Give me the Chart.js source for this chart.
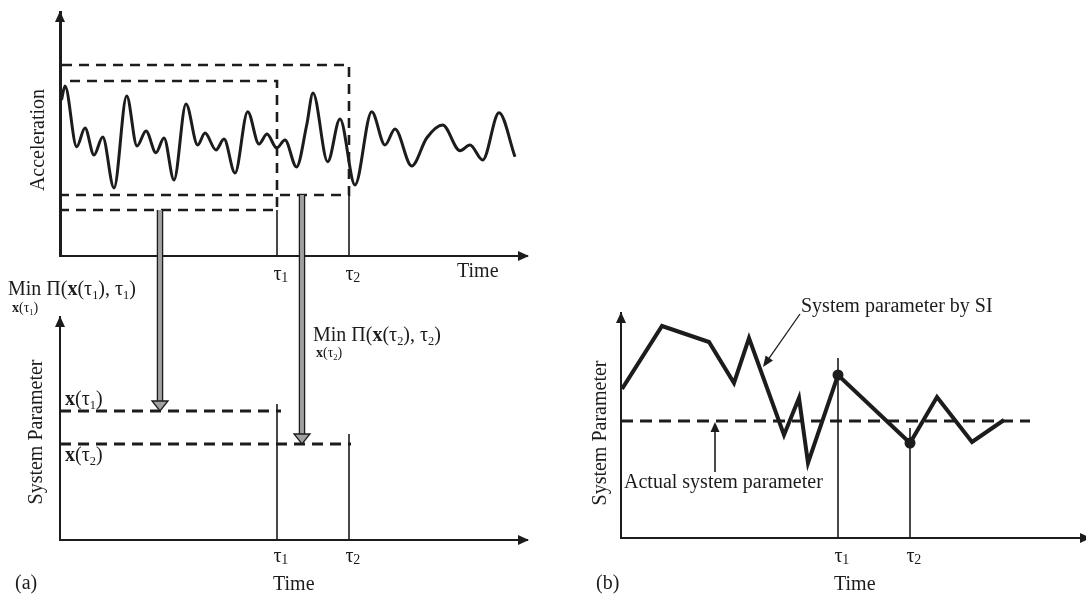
<!DOCTYPE html>
<html><head><meta charset="utf-8">
<script src="https://cdn.jsdelivr.net/npm/chart.js@4.4.1/dist/chart.umd.min.js"></script>
<style>
html,body{margin:0;padding:0;background:#fff;}
#wrap{position:relative;width:1086px;height:597px;overflow:hidden;background:#fff;}
canvas{position:absolute;left:0;top:0;}
</style></head><body>
<div id="wrap">
<canvas id="cA" width="1086" height="597"></canvas>
<canvas id="cB" width="1086" height="597"></canvas>
<canvas id="cC" width="1086" height="597"></canvas>
</div>
<script>
// ---------------- data ----------------
const tau = [21.7, 28.9];              // τ1, τ2 (time units)
const tauSubs = ['1', '2'];
// (a) top: acceleration record
const accTime  = [0.15,0.5,1.67,2.5,3.4,4.27,5.4,6.67,7.7,8.6,9.6,10.4,11.4,12.6,13.77,14.5,15.6,16.4,17.5,18.77,19.9,20.7,21.67,22.5,23.65,24.67,25.3,26.77,28.0,29.5,31.17,32.5,33.5,35.17,36.67,38.27,40.0,41.0,42.27,43.9,45.5];
const accValue = [5.0,6.4,0.33,2.2,-0.5,1.3,-3.8,5.4,0.4,1.9,-0.27,1.2,-3.0,4.6,0.5,1.7,0.0,1.1,-2.3,3.83,0.6,1.6,0.2,1.0,-1.7,2.5,5.7,-1.17,3.1,-3.5,3.83,0.5,2.1,-1.6,1.2,2.5,-0.07,0.5,-1.0,3.73,-0.67];
const outerBoxTime = [0.2, 28.9, 28.9, 0.2];
const outerBoxAcc  = [8.5, 8.5, -4.5, -4.5];
const innerBoxTime = [1.0, 21.7, 21.7, 0.2];
const innerBoxAcc  = [6.9, 6.9, -6.0, -6.0];
// (a) bottom: identified parameters
const estParam = [12.9, 9.6];          // x(τ1), x(τ2)
const estEnd   = [22.1, 29.1];
const estTauTop = [13.6, 10.6];
const greyArrowTime = [10.0, 24.2];
// (b): system parameter by SI
const siTime  = [0.1, 4.1, 8.8, 11.3, 12.8, 16.3, 17.8, 18.7, 21.7, 28.9, 31.6, 35.1, 38.3];
const siValue = [14.9, 21.2, 19.6, 15.5, 20.0, 10.3, 14.0, 7.5, 16.3, 9.5, 14.1, 9.6, 11.8];
const actualParam = 11.7;
const actualEnd = 40.9;
const siTauTop = [18.0, 11.0];

const INK = '#1c1c1c';
const SERIF = '"Liberation Serif", "Times New Roman", serif';

function pts(xs, ys){ return xs.map((x,i)=>({x, y: ys[i]})); }

function arrowHead(ctx, x, y, ang, len, half){
  ctx.save(); ctx.translate(x,y); ctx.rotate(ang);
  ctx.beginPath(); ctx.moveTo(0,0); ctx.lineTo(-len,-half); ctx.lineTo(-len,half); ctx.closePath(); ctx.fill();
  ctx.restore();
}
function pointer(ctx, x1,y1,x2,y2,len,half,lw){
  const a = Math.atan2(y2-y1, x2-x1);
  ctx.lineWidth = lw; ctx.beginPath(); ctx.moveTo(x1,y1);
  ctx.lineTo(x2-Math.cos(a)*len*0.7, y2-Math.sin(a)*len*0.7); ctx.stroke();
  arrowHead(ctx, x2, y2, a, len, half);
}
function greyArrow(ctx, x, y1, y2){
  const hw = 2.6, headL = 10, headH = 8;
  ctx.save();
  ctx.fillStyle = '#a0a0a0'; ctx.strokeStyle = INK; ctx.lineWidth = 1.3;
  ctx.fillRect(x-hw, y1, hw*2, y2-headL-y1);
  ctx.beginPath(); ctx.moveTo(x-hw,y1); ctx.lineTo(x-hw,y2-headL);
  ctx.moveTo(x+hw,y1); ctx.lineTo(x+hw,y2-headL); ctx.stroke();
  ctx.beginPath(); ctx.moveTo(x-headH,y2-headL); ctx.lineTo(x+headH,y2-headL); ctx.lineTo(x,y2); ctx.closePath();
  ctx.fill(); ctx.stroke();
  ctx.restore();
}
function rich(ctx, x, y, parts, size){
  ctx.textAlign='left'; ctx.textBaseline='alphabetic'; ctx.fillStyle=INK;
  let cx = x;
  for (const [t, st] of parts){
    const sub = st.includes('s');
    const sz = sub ? size*0.62 : size;
    ctx.font = (st.includes('b') ? 'bold ' : '') + sz + 'px ' + SERIF;
    ctx.fillText(t, cx, y + (sub ? size*0.2 : 0));
    cx += ctx.measureText(t).width;
  }
}
function text(ctx, t, x, y, size, align){
  ctx.font = size + 'px ' + SERIF; ctx.fillStyle = INK;
  ctx.textAlign = align || 'left'; ctx.textBaseline = 'alphabetic';
  ctx.fillText(t, x, y);
}
function vtext(ctx, t, x, y, size){
  ctx.save(); ctx.translate(x,y); ctx.rotate(-Math.PI/2);
  ctx.font = size + 'px ' + SERIF; ctx.fillStyle = INK;
  ctx.textAlign='center'; ctx.textBaseline='middle'; ctx.fillText(t,0,0); ctx.restore();
}
function tauTicks(chart, baseline){
  const ctx = chart.ctx, xs = chart.scales.x;
  tau.forEach((v,i)=>{
    const px = xs.getPixelForValue(v);
    ctx.font = '20px ' + SERIF; ctx.fillStyle = INK; ctx.textAlign='left'; ctx.textBaseline='alphabetic';
    const w = ctx.measureText('τ').width;
    ctx.fillText('τ', px - w/2 + 0.5, baseline);
    ctx.font = '14px ' + SERIF;
    ctx.fillText(tauSubs[i], px + w/2 + 0.3, baseline + 2);
  });
}

const axisArrows = {
  id: 'axisArrows',
  afterDraw(chart, args, opts){
    const {left, right, top, bottom} = chart.chartArea; const ctx = chart.ctx;
    ctx.save(); ctx.fillStyle = INK;
    arrowHead(ctx, left, top - 1, -Math.PI/2, 11, 5);
    arrowHead(ctx, right + (opts.ext || 2), bottom, 0, 11, 5);
    ctx.restore();
  }
};

function makeChart(id, area, xr, yr, datasets, extra, yBorderW){
  return new Chart(document.getElementById(id), {
    type: 'line',
    data: { datasets },
    options: {
      responsive: false, animation: false, events: [],
      layout: { padding: { left: area.l, top: area.t, right: 1086 - area.r, bottom: 597 - area.b } },
      plugins: { legend: {display:false}, tooltip: {enabled:false}, title:{display:false}, axisArrows: {ext: area.ext} },
      elements: { point: { radius: 0 }, line: { tension: 0, borderColor: INK, borderCapStyle: 'butt' } },
      scales: {
        x: { type:'linear', min: xr[0], max: xr[1], grid:{display:false, drawTicks:false}, ticks:{display:false}, border:{display:true, width:2, color:INK} },
        y: { type:'linear', min: yr[0], max: yr[1], grid:{display:false, drawTicks:false}, ticks:{display:false}, border:{display:true, width:yBorderW || 2, color:INK} }
      }
    },
    plugins: [axisArrows, extra]
  });
}

// ---------- (a) top ----------
const chartA = makeChart('cA', {l:60, t:12, r:527, b:256, ext:2}, [0, 46.7], [-10.6, 13.8], [
  { data: pts(accTime, accValue), borderWidth: 3, cubicInterpolationMode: 'monotone', borderColor: INK },
  { data: pts(outerBoxTime, outerBoxAcc), borderWidth: 2.6, borderDash: [10, 7], borderColor: INK },
  { data: pts(innerBoxTime, innerBoxAcc), borderWidth: 2.6, borderDash: [10, 7], borderColor: INK },
  { data: [{x: tau[0], y: innerBoxAcc[2]}, {x: tau[0], y: -10.6}], borderWidth: 1.6, borderColor: INK },
  { data: [{x: tau[1], y: outerBoxAcc[2]}, {x: tau[1], y: -10.6}], borderWidth: 1.6, borderColor: INK }
], {
  id: 'labelsA',
  afterDraw(chart){
    const ctx = chart.ctx;
    vtext(ctx, 'Acceleration', 39, 140, 20);
    text(ctx, 'Time', 457, 277, 20);
    tauTicks(chart, 280);
  }
}, 3);

// ---------- (a) bottom ----------
const chartB = makeChart('cB', {l:60, t:317, r:527, b:540, ext:2}, [0, 46.7], [0, 22.3], [
  { data: [{x:0, y:estParam[0]}, {x:estEnd[0], y:estParam[0]}], borderWidth: 3, borderDash: [11, 7], borderColor: INK },
  { data: [{x:0, y:estParam[1]}, {x:estEnd[1], y:estParam[1]}], borderWidth: 3, borderDash: [11, 7], borderColor: INK },
  { data: [{x: tau[0], y: estTauTop[0]}, {x: tau[0], y: 0}], borderWidth: 1.6, borderColor: INK },
  { data: [{x: tau[1], y: estTauTop[1]}, {x: tau[1], y: 0}], borderWidth: 1.6, borderColor: INK }
], {
  id: 'labelsB',
  afterDraw(chart){
    const ctx = chart.ctx;
    vtext(ctx, 'System Parameter', 37, 432, 20);
    text(ctx, 'Time', 273, 590, 20);
    text(ctx, '(a)', 15, 589, 20);
    tauTicks(chart, 562);
    rich(ctx, 65, 405, [['x','b'],['(τ',''],['1','s'],[')','']], 20);
    rich(ctx, 65, 461, [['x','b'],['(τ',''],['2','s'],[')','']], 20);
    rich(ctx, 8, 295, [['Min ',''],['Π',''],['(',''],['x','b'],['(τ',''],['1','s'],['), τ',''],['1','s'],[')','']], 20);
    rich(ctx, 12, 312, [['x','b'],['(τ',''],['1','s'],[')','']], 14);
    rich(ctx, 313, 341, [['Min ',''],['Π',''],['(',''],['x','b'],['(τ',''],['2','s'],['), τ',''],['2','s'],[')','']], 20);
    rich(ctx, 316, 357, [['x','b'],['(τ',''],['2','s'],[')','']], 14);
    // grey arrows from the windows of (a) top to the identified values
    const ay = chartA.scales.y, by = chart.scales.y, bx = chart.scales.x;
    greyArrow(ctx, bx.getPixelForValue(greyArrowTime[0]), ay.getPixelForValue(innerBoxAcc[3]), by.getPixelForValue(estParam[0]));
    greyArrow(ctx, bx.getPixelForValue(greyArrowTime[1]), ay.getPixelForValue(outerBoxAcc[3]), by.getPixelForValue(estParam[1]));
  }
});

// ---------- (b) ----------
const chartC = makeChart('cC', {l:621, t:313, r:1086, b:538, ext:5}, [0, 46.5], [0, 22.5], [
  { data: pts(siTime, siValue), borderWidth: 4, borderColor: INK, borderJoinStyle: 'miter',
    pointRadius: siTime.map(t => tau.includes(t) ? 5.5 : 0), pointBackgroundColor: INK, pointBorderColor: INK, pointBorderWidth: 0 },
  { data: [{x:0, y:actualParam}, {x:actualEnd, y:actualParam}], borderWidth: 3, borderDash: [12, 7], borderColor: INK },
  { data: [{x: tau[0], y: siTauTop[0]}, {x: tau[0], y: 0}], borderWidth: 1.6, borderColor: INK },
  { data: [{x: tau[1], y: siTauTop[1]}, {x: tau[1], y: 0}], borderWidth: 1.6, borderColor: INK }
], {
  id: 'labelsC',
  afterDraw(chart){
    const ctx = chart.ctx, xs = chart.scales.x, ys = chart.scales.y;
    vtext(ctx, 'System Parameter', 601, 433, 20);
    text(ctx, 'Time', 834, 590, 20);
    text(ctx, '(b)', 596, 589, 20);
    tauTicks(chart, 562);
    text(ctx, 'System parameter by SI', 801, 312, 20);
    text(ctx, 'Actual system parameter', 624, 488, 20);
    ctx.save(); ctx.strokeStyle = INK; ctx.fillStyle = INK;
    pointer(ctx, xs.getPixelForValue(17.9), ys.getPixelForValue(22.4), xs.getPixelForValue(14.2), ys.getPixelForValue(17.1), 11, 4.5, 1.3);
    pointer(ctx, xs.getPixelForValue(9.4), ys.getPixelForValue(6.6), xs.getPixelForValue(9.4), ys.getPixelForValue(11.6), 10, 4.5, 1.6);
    ctx.restore();
  }
});
</script>
</body></html>
